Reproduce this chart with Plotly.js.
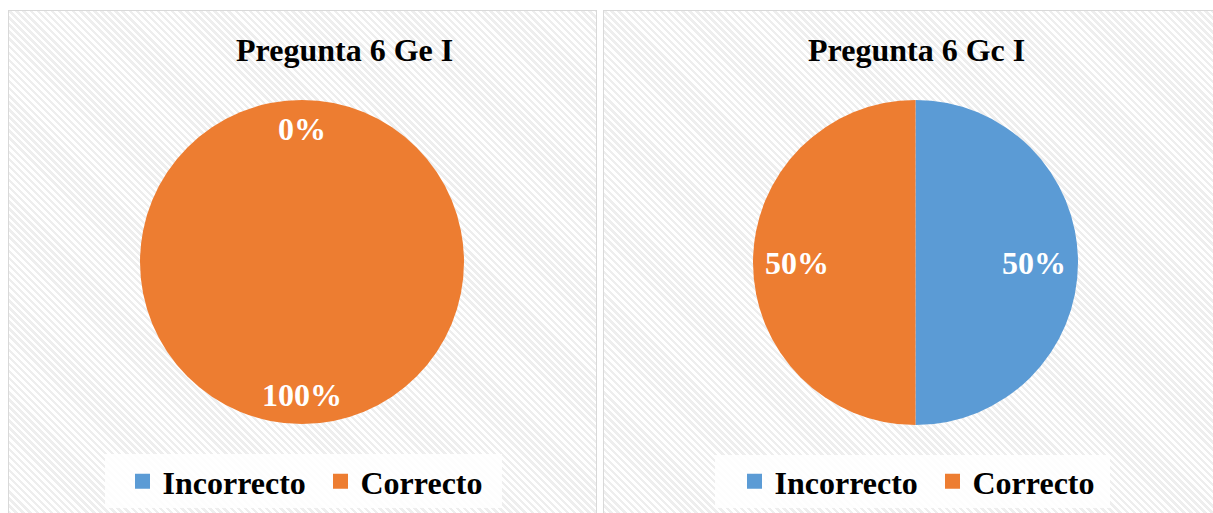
<!DOCTYPE html>
<html><head><meta charset="utf-8">
<script src="https://cdn.plot.ly/plotly-3.0.1.min.js"></script>
<style>
html,body{margin:0;padding:0;background:#fff;overflow:hidden;width:1213px;height:513px;}
.panel{position:absolute;top:10px;height:530px;border:1px solid #d9d9d9;box-sizing:border-box;
background:repeating-linear-gradient(45deg,#ffffff 0px,#ffffff 2.5px,#eeeeee 2.5px,#eeeeee 5px);}
.plot{position:absolute;top:10px;height:503px;}
</style></head><body>
<div class="panel" style="left:8px;width:589px"></div>
<div class="panel" style="left:603px;width:640px"></div>
<div id="p1" class="plot" style="left:8px;width:588px"></div>
<div id="p2" class="plot" style="left:603px;width:624px"></div>
<script>
const categories = ['Incorrecto', 'Correcto'];
const valuesGe = [0, 100];
const valuesGc = [50, 50];
const titleGe = 'Pregunta 6 Ge I';
const titleGc = 'Pregunta 6 Gc I';
const sliceColors = ['#5B9BD5', '#ED7D31'];

const FONT = 'Liberation Serif, Times New Roman, serif';

function makeChart(divId, W, H, cx, cy, R, values, title, titleX, legendX, box, labelR) {
  const total = values.reduce((a, b) => a + b, 0);
  const annotations = [];
  let cum = 0;
  values.forEach((v, i) => {
    const a = (cum + v / 2) / total * 2 * Math.PI;
    cum += v;
    annotations.push({
      xref: 'paper', yref: 'paper',
      x: (cx + labelR * R * Math.sin(a)) / W,
      y: (H - cy + labelR * R * Math.cos(a)) / H,
      xanchor: 'center', yanchor: 'middle', showarrow: false,
      text: Math.round(v / total * 100) + '%',
      font: {family: FONT, size: 32, color: '#ffffff', weight: 'bold'}
    });
  });
  annotations.push({
    xref: 'paper', yref: 'paper', x: titleX / W, y: (H - 40) / H,
    xanchor: 'center', yanchor: 'middle', showarrow: false,
    text: title, font: {family: FONT, size: 32, color: '#000000', weight: 'bold'}
  });
  const trace = {
    type: 'pie', labels: categories, values: values, sort: false,
    direction: 'clockwise', rotation: 0, textinfo: 'none', hoverinfo: 'skip',
    marker: {colors: sliceColors, line: {width: 0}},
    domain: {x: [(cx - R) / W, (cx + R) / W], y: [(H - cy - R) / H, (H - cy + R) / H]}
  };
  const layout = {
    width: W, height: H, margin: {l: 0, r: 0, t: 0, b: 0},
    paper_bgcolor: 'rgba(0,0,0,0)', plot_bgcolor: 'rgba(0,0,0,0)',
    showlegend: true,
    legend: {
      orientation: 'h', x: legendX / W, xanchor: 'left', y: (H - 444) / H, yanchor: 'top',
      bgcolor: 'rgba(0,0,0,0)', borderwidth: 0,
      font: {family: FONT, size: 32, color: '#000000', weight: 'bold'},
      entrywidth: 153, entrywidthmode: 'pixels', traceorder: 'normal'
    },
    shapes: [{
      type: 'rect', xref: 'paper', yref: 'paper', layer: 'below',
      x0: box[0] / W, x1: box[1] / W, y0: (H - box[3]) / H, y1: (H - box[2]) / H,
      fillcolor: 'rgba(255,255,255,0.85)', line: {width: 0}
    }],
    annotations: annotations
  };
  Plotly.newPlot(divId, [trace], layout, {staticPlot: true, displayModeBar: false}).then(gd => {
    gd.querySelectorAll('.legendpoints path').forEach(p => p.setAttribute('d', 'M7.5,7.5H-7.5V-7.5H7.5Z'));
  });
}

makeChart('p1', 588, 503, 294, 252, 162, valuesGe, titleGe, 336, 114.5, [97, 494, 444, 498], 0.82);
makeChart('p2', 624, 503, 312.5, 252.5, 162.5, valuesGc, titleGc, 313, 131.5, [112, 507, 445, 498], 0.73);
</script>
</body></html>
